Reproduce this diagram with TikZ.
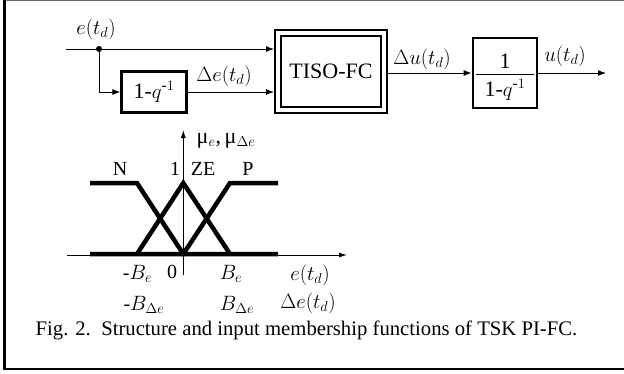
\documentclass[tikz,border=0pt]{standalone}
\usepackage{amsmath}
\usepackage{fontspec}
\setmainfont{Liberation Serif}
\usetikzlibrary{arrows.meta}
\begin{document}
\begin{tikzpicture}[x=1pt,y=-1pt,
  arr/.style={line width=1pt,-{Latex[length=8pt,width=6pt]}},
  blk/.style={draw,line width=2.2pt,inner sep=0pt},
  lbl/.style={font=\fontsize{22}{24}\selectfont,inner sep=0pt},
  tl/.style={font=\fontsize{20}{22}\selectfont,inner sep=0pt},
  mf/.style={line width=4.5pt},
  ax/.style={line width=0.9pt,-{Latex[length=8pt,width=5pt]}}]
\useasboundingbox (0,0) rectangle (624,373);
% frame
\draw[line width=0.8pt,black!60] (3,0.5) -- (624,0.5);
\draw[line width=3pt] (4.3,0) -- (4.3,370.3);
\draw[line width=2.5pt] (3,369) -- (624,369);
% blocks
\node[blk,minimum width=65pt,minimum height=41pt,font=\fontsize{22}{24}\selectfont] (b1) at (154,92) {1-$q^{\text{-}1}$};
\node[draw,double,line width=2.2pt,double distance=3.5pt,minimum width=106pt,minimum height=77pt,outer sep=4pt,
  font=\fontsize{22}{24}\selectfont] (ts) at (331,71.5) {TISO-FC};
\node[blk,minimum width=64.5pt,minimum height=70.5pt] (b2) at (505,73) {};
\node[lbl] (num) at (505,61) {1};
\node[lbl] (den) at (505,90) {1-$q^{\text{-}1}$};
\draw[line width=1.3pt] ([xshift=4pt]b2.west |- 0,74.3) -- ([xshift=-4pt]b2.east |- 0,74.3);
% signals
\coordinate (in) at (66,49);
\coordinate (j) at (99,49);
\coordinate (out) at (606,73);
\draw[arr] (in) -- (in -| ts.west);
\fill (j) circle (3pt);
\draw[arr] (j) |- (b1.west);
\draw[arr] (b1.east) -- (b1.east -| ts.west);
\draw[arr] (ts.east |- b2.west) -- (b2.west);
\draw[arr] (b2.east) -- (out);
% labels
\node[lbl] (le) at (96,29) {$e(t_d)$};
\node[lbl] (lde) at (224,76) {$\Delta e(t_d)$};
\node[lbl] (ldu) at (422,59) {$\Delta u(t_d)$};
\node[lbl] (lu) at (565,56) {$u(t_d)$};
% membership plot
\draw[ax] (183.3,275) -- (183.3,130);
\draw[ax] (67,255) -- (347,255);
\draw[mf] (90,183) -- (137,183) -- (183.3,254) -- (278,254);
\draw[mf] (90,254) -- (183.3,254) -- (230,183) -- (278,183);
\draw[mf] (137,254) -- (183.3,183) -- (230,254);
\node[lbl] (mu) at (226,141) {μ$_e$,\,μ$_{\Delta e}$};
\node[tl] (lN) at (120,169) {N};
\node[tl] (l1) at (175,169) {1};
\node[tl] (lZE) at (203,169) {ZE};
\node[tl] (lP) at (248,169) {P};
\node[tl] (mBe) at (137.5,274) {-$B_e$};
\node[tl] (l0) at (172,272) {0};
\node[tl] (pBe) at (231,274) {$B_e$};
\node[lbl] (xe) at (310,275) {$e(t_d)$};
\node[tl] (mBde) at (144,305) {-$B_{\Delta e}$};
\node[tl] (pBde) at (237,305) {$B_{\Delta e}$};
\node[lbl] (xde) at (308,303.5) {$\Delta e(t_d)$};
% caption
\node[font=\fontsize{20.7}{24}\selectfont,inner sep=0pt] (cap) at (306.5,330) {Fig. 2.\ \ Structure and input membership functions of TSK PI-FC.};
\end{tikzpicture}
\end{document}
